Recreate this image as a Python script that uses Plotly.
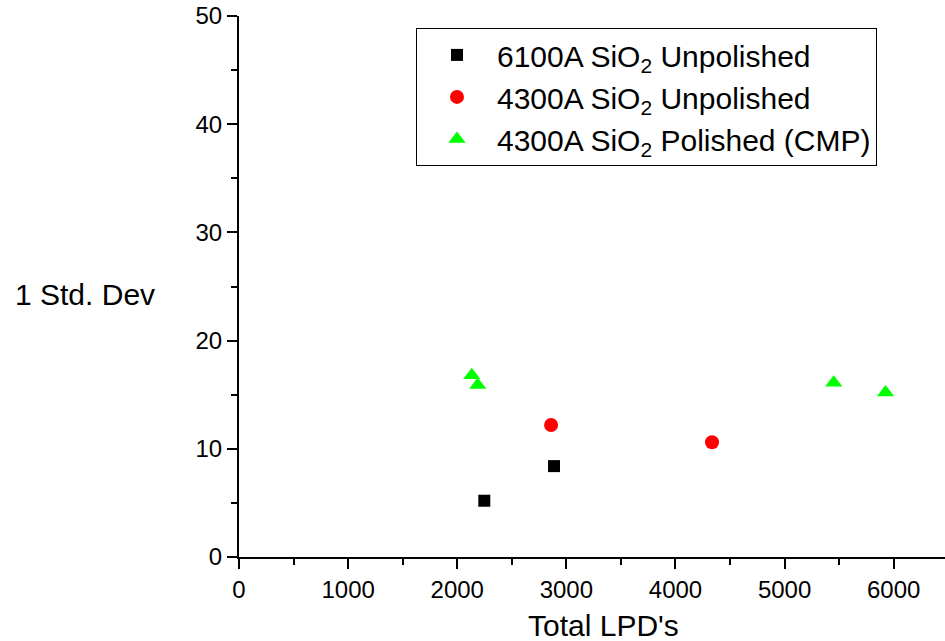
import plotly.graph_objects as go

sq_x = [2248, 2887]
sq_y = [5.2, 8.4]
ci_x = [2860, 4335]
ci_y = [12.2, 10.6]
tr_x = [2133, 2188, 5450, 5925]
tr_y = [16.8, 15.9, 16.1, 15.2]

names = ["6100A SiO<sub>2</sub> Unpolished",
         "4300A SiO<sub>2</sub> Unpolished",
         "4300A SiO<sub>2</sub> Polished (CMP)"]

fig = go.Figure()
fig.add_trace(go.Scatter(x=sq_x, y=sq_y, mode="markers", name=names[0],
                         marker=dict(symbol="square", size=12, color="black")))
fig.add_trace(go.Scatter(x=ci_x, y=ci_y, mode="markers", name=names[1],
                         marker=dict(symbol="circle", size=14, color="#ff0000")))
fig.add_trace(go.Scatter(x=tr_x, y=tr_y, mode="markers", name=names[2],
                         marker=dict(symbol="triangle-up", size=15, color="#00ff00")))

font = "Liberation Sans, Arial, sans-serif"
fig.update_layout(
    width=945, height=641,
    margin=dict(l=239, r=0, t=16, b=84),
    paper_bgcolor="white", plot_bgcolor="white",
    font=dict(family=font, size=24, color="black"),
    showlegend=True,
    legend=dict(x=0.2507, y=0.978, xanchor="left", yanchor="top",
                bordercolor="black", borderwidth=1, bgcolor="white",
                font=dict(size=30, family=font), itemwidth=70,
                tracegroupgap=0),
    xaxis=dict(range=[0, 6470], tickvals=[0, 1000, 2000, 3000, 4000, 5000, 6000],
               showgrid=False, zeroline=False, showline=True, linecolor="black",
               linewidth=2, ticks="outside", ticklen=10, tickwidth=1.5, tickcolor="black",
               minor=dict(dtick=500, ticks="outside", ticklen=6, tickwidth=1.5, tickcolor="black"),
               tickfont=dict(size=24)),
    yaxis=dict(range=[0, 50], tickvals=[0, 10, 20, 30, 40, 50],
               showgrid=False, zeroline=False, showline=True, linecolor="black",
               linewidth=2, ticks="outside", ticklen=10, tickwidth=1.5, tickcolor="black",
               minor=dict(dtick=5, ticks="outside", ticklen=6, tickwidth=1.5, tickcolor="black"),
               tickfont=dict(size=24)),
    annotations=[
        dict(text="1 Std. Dev", xref="paper", yref="paper",
             x=-0.218, y=0.486, xanchor="center", yanchor="middle",
             showarrow=False, font=dict(size=30, family=font)),
        dict(text="Total LPD's", xref="paper", yref="paper",
             x=0.5156, y=-0.1275, xanchor="center", yanchor="middle",
             showarrow=False, font=dict(size=30, family=font)),
    ],
)
fig.write_html("out.html")
